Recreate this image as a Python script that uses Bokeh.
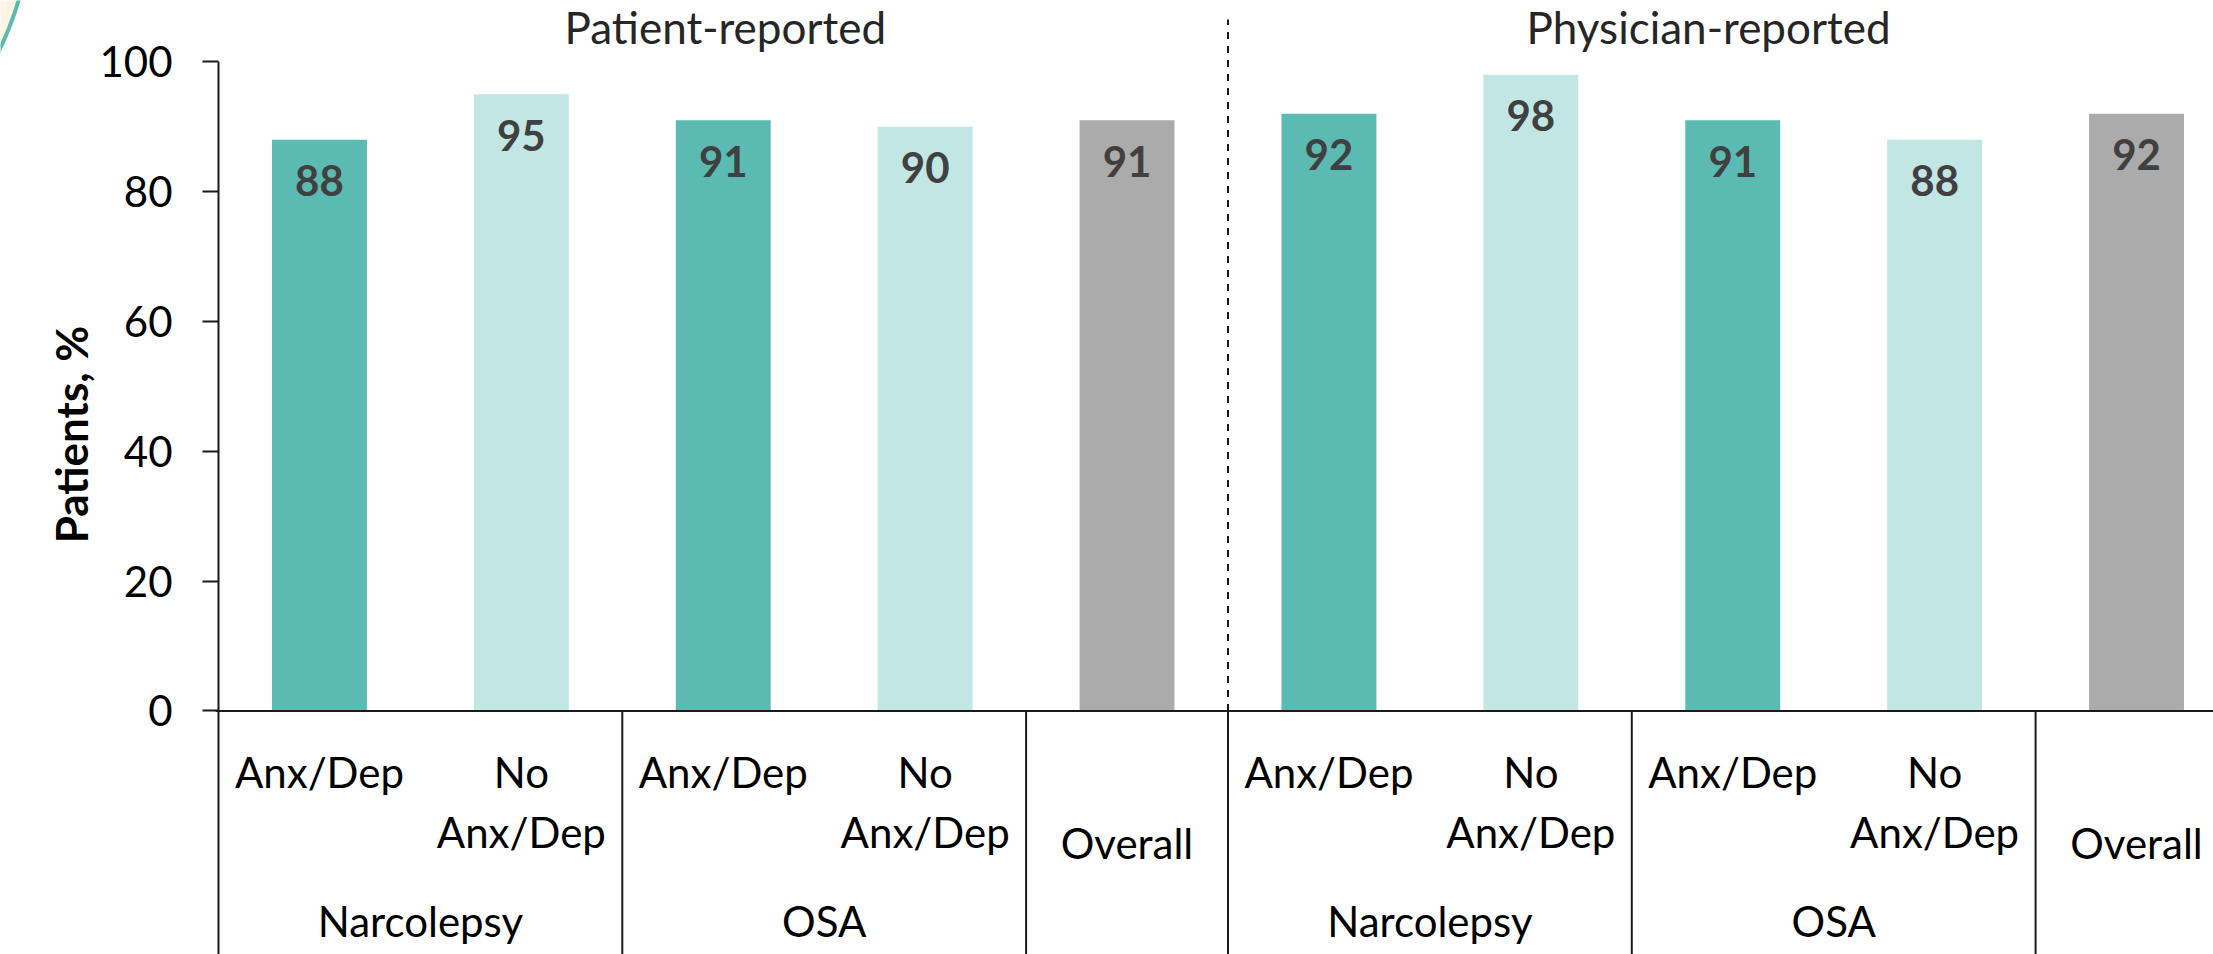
import numpy as np
from bokeh.plotting import figure
from bokeh.layouts import row
from bokeh.models import Range1d, FixedTicker, ColumnDataSource
from bokeh.core.properties import value
from bokeh.embed import file_html
from bokeh.resources import INLINE

# ---------------- data ----------------
reports = ["Patient-reported", "Physician-reported"]
conditions = ["Narcolepsy", "Narcolepsy", "OSA", "OSA", ""]
subgroups = ["Anx/Dep", "No Anx/Dep", "Anx/Dep", "No Anx/Dep", "Overall"]
patient_values = [88, 95, 91, 90, 91]
physician_values = [92, 98, 91, 88, 92]
y_ticks = [0, 20, 40, 60, 80, 100]
y_label = "Patients, %"

# ---------------- style ----------------
DARK = "#5BBAB1"
LIGHT = "#C2E6E3"
GREY = "#ABABAB"
FONT = "Lato"
FS = "42px"
bar_palette = [DARK, LIGHT, DARK, LIGHT, GREY]

values = patient_values + physician_values
n = len(values)
xs = np.arange(n) + 0.5
colors = bar_palette * len(reports)
all_conditions = conditions * len(reports)
all_subgroups = subgroups * len(reports)

W, H = 2213, 954
LW = 96              # width of the strip holding the y-axis title
BL = 214 - LW        # left border of main figure
Y_BOT, Y_TOP = -37.51, 109.44
X_START = -3 / 202.0
X_END = X_START + (W - LW - BL) / 202.0

# ---------- left strip: y-axis title + slide decoration ----------
lab = figure(width=LW, height=H, x_range=Range1d(0, LW), y_range=Range1d(H, 0),
             output_backend="svg", toolbar_location=None,
             x_axis_location=None, y_axis_location=None,
             min_border_left=0, min_border_right=0, min_border_top=0, min_border_bottom=0)
lab.outline_line_color = None
lab.grid.visible = False
lab.circle(x=[-300], y=[-95], radius=332, fill_color="#FDF4E4", line_color=DARK, line_width=4)
lab.text(x=[70], y=[434], text=[y_label], angle=np.pi / 2, text_align="center",
         text_baseline="middle", text_font=value(FONT), text_font_size="44px",
         text_font_style="bold", text_color="#000000")

# ---------- main chart ----------
p = figure(width=W - LW, height=H,
           x_range=Range1d(X_START, X_END), y_range=Range1d(Y_BOT, Y_TOP),
           output_backend="svg", toolbar_location=None, x_axis_location=None,
           min_border_left=BL, min_border_right=0, min_border_top=0, min_border_bottom=0)
p.outline_line_color = None
p.grid.visible = False
p.background_fill_color = "white"
p.border_fill_color = "white"

ax = p.yaxis[0]
ax.ticker = FixedTicker(ticks=y_ticks)
ax.axis_line_color = None
ax.major_tick_out = 13
ax.major_tick_in = 3
ax.minor_tick_out = 0
ax.minor_tick_in = 0
ax.major_tick_line_width = 2
ax.major_tick_line_color = "#1a1a1a"
ax.major_label_text_font = FONT
ax.major_label_text_font_size = FS
ax.major_label_text_color = "#000000"
ax.major_label_standoff = 30

# bars
src = ColumnDataSource(dict(x=xs, top=values, color=colors,
                            label=[str(v) for v in values],
                            ly=np.array(values, dtype=float) - 6.3))
p.vbar(x="x", top="top", bottom=0, width=0.47, color="color", line_color=None, source=src)
p.text(x="x", y="ly", text="label", source=src, text_align="center",
       text_baseline="middle", text_font=value(FONT), text_font_style="bold",
       text_font_size=FS, text_color="#404040")

# axis lines
p.segment(x0=[0], y0=[max(y_ticks)], x1=[0], y1=[Y_BOT], line_width=2, line_color="#1a1a1a")
p.segment(x0=[X_START], y0=[0], x1=[X_END], y1=[0], line_width=2, line_color="#1a1a1a")

# group separators below the axis
bounds = []
k = len(subgroups)
for r in range(len(reports)):
    for i in range(1, k + 1):
        j = r * k + i
        if j >= n:
            continue
        if all_conditions[j] != all_conditions[j - 1] or i == k:
            bounds.append(float(j))
p.segment(x0=bounds, y0=[0] * len(bounds), x1=bounds, y1=[Y_BOT] * len(bounds),
          line_width=2, line_color="#1a1a1a")
# dashed divider between reports
p.segment(x0=[float(k)], y0=[0], x1=[float(k)], y1=[106.5], line_width=2,
          line_color="#1a1a1a", line_dash="7 7")

# category labels
l1x, l1t, l2x, l2t, ovx, ovt = [], [], [], [], [], []
for x, c, s in zip(xs, all_conditions, all_subgroups):
    if c == "":
        ovx.append(x); ovt.append(s)
    else:
        parts = s.split(" ", 1)
        l1x.append(x); l1t.append(parts[0])
        if len(parts) > 1:
            l2x.append(x); l2t.append(parts[1])
common = dict(text_align="center", text_baseline="middle", text_font=value(FONT),
              text_font_size=FS, text_color="#000000")
p.text(x=l1x, y=[-9.4] * len(l1x), text=l1t, **common)
p.text(x=l2x, y=[-18.6] * len(l2x), text=l2t, **common)
p.text(x=ovx, y=[-20.4] * len(ovx), text=ovt, **common)

gx, gt = [], []
i = 0
while i < n:
    c = all_conditions[i]
    j = i
    while j + 1 < n and all_conditions[j + 1] == c and (j + 1) % k != 0:
        j += 1
    if c:
        gx.append((xs[i] + xs[j]) / 2.0); gt.append(c)
    i = j + 1
p.text(x=gx, y=[-32.4] * len(gx), text=gt, **common)

# report titles
title_x = [2.51, 7.38]
p.text(x=title_x, y=[105.3] * 2, text=reports, text_align="center", text_baseline="middle",
       text_font=value(FONT), text_font_size="44px", text_color="#262626")

layout = row(lab, p, spacing=0)
open("out.html", "w").write(file_html(layout, INLINE))
